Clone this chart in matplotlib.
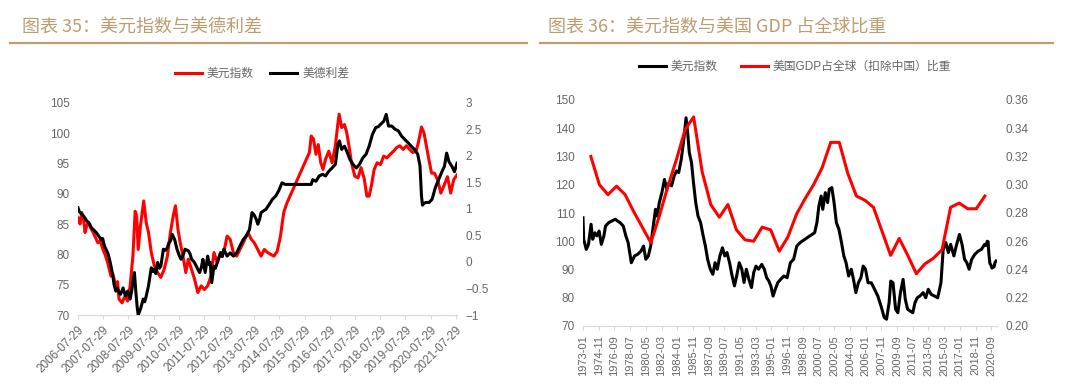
import matplotlib
matplotlib.use('Agg')
import matplotlib.pyplot as plt
from matplotlib.lines import Line2D

plt.rcParams['font.family'] = ['Liberation Sans', 'Noto Sans CJK SC', 'DejaVu Sans']

TITLE_COLOR = '#bb9d70'
TEXT_COLOR = '#666666'
AXIS_COLOR = '#d9d9d9'

# ---- chart 35: USD index (left axis) vs US-German 10y spread (right axis), x in decimal years
dxy_t = [2006.57, 2006.65, 2006.72, 2006.80, 2006.85, 2006.92, 2006.98, 2007.08, 2007.17, 2007.25,
         2007.36, 2007.45, 2007.56, 2007.65, 2007.75, 2007.88, 2007.95, 2008.07, 2008.14, 2008.20,
         2008.32, 2008.40, 2008.45, 2008.54, 2008.64, 2008.75, 2008.84, 2008.90, 2008.96, 2009.05,
         2009.18, 2009.28, 2009.37, 2009.48, 2009.60, 2009.73, 2009.86, 2009.99, 2010.12, 2010.24,
         2010.35, 2010.44, 2010.54, 2010.63, 2010.76, 2010.85, 2010.95, 2011.08, 2011.20, 2011.33,
         2011.46, 2011.59, 2011.72, 2011.85, 2011.97, 2012.10, 2012.23, 2012.36, 2012.49, 2012.61,
         2012.74, 2012.87, 2013.00, 2013.13, 2013.32, 2013.45, 2013.57, 2013.71, 2013.84, 2013.97,
         2014.10, 2014.22, 2014.35, 2014.48, 2014.61, 2014.74, 2014.87, 2015.76, 2015.83, 2015.92,
         2016.02, 2016.11, 2016.21, 2016.30, 2016.40, 2016.53, 2016.66, 2016.79, 2016.88, 2016.94,
         2017.04, 2017.15, 2017.24, 2017.33, 2017.43, 2017.56, 2017.69, 2017.81, 2017.94, 2018.04,
         2018.13, 2018.22, 2018.33, 2018.45, 2018.58, 2018.71, 2018.84, 2018.97, 2019.10, 2019.22,
         2019.35, 2019.48, 2019.61, 2019.74, 2019.86, 2019.99, 2020.08, 2020.21, 2020.31, 2020.42,
         2020.51, 2020.61, 2020.72, 2020.85, 2020.98, 2021.11, 2021.24, 2021.37, 2021.49, 2021.62]
dxy_v = [86.0, 85.0, 86.9, 85.5, 83.6, 84.8, 85.2, 84.3, 83.6, 82.9,
         81.9, 82.3, 80.8, 79.9, 78.6, 76.4, 76.8, 74.8, 75.5, 72.6,
         72.0, 72.8, 73.1, 72.3, 74.8, 79.7, 87.1, 86.3, 80.8, 84.7,
         88.8, 85.2, 83.6, 80.3, 78.1, 77.0, 76.2, 77.5, 79.7, 83.6,
         86.3, 88.0, 84.1, 81.9, 79.2, 77.0, 79.2, 77.5, 75.9, 73.7,
         74.8, 74.2, 74.8, 76.4, 80.3, 78.6, 80.3, 80.3, 83.0, 82.5,
         80.3, 79.7, 80.8, 81.9, 83.6, 82.5, 81.9, 80.8, 79.7, 80.8,
         80.3, 80.0, 79.7, 80.5, 83.0, 86.9, 88.5, 96.8, 99.5, 99.0,
         96.5, 98.1, 95.1, 94.0, 95.7, 97.0, 95.1, 97.9, 101.2, 103.1,
         100.9, 101.4, 100.1, 97.9, 95.1, 92.9, 92.6, 94.3, 92.4, 89.6,
         89.6, 91.3, 94.0, 95.1, 94.8, 96.2, 95.9, 96.5, 97.0, 97.6,
         97.9, 97.3, 97.9, 97.3, 96.8, 97.0, 98.3, 101.0, 100.0, 97.5,
         95.5, 93.4, 93.4, 92.3, 90.1, 91.4, 92.8, 90.1, 92.3, 93.1]

spread_t = [2006.57, 2006.62, 2006.72, 2006.80, 2006.92, 2007.00, 2007.11, 2007.20, 2007.30, 2007.40,
            2007.49, 2007.55, 2007.62, 2007.75, 2007.82, 2007.88, 2007.95, 2008.00, 2008.07, 2008.13,
            2008.20, 2008.26, 2008.36, 2008.45, 2008.54, 2008.64, 2008.70, 2008.75, 2008.81, 2008.87,
            2008.92, 2008.96, 2009.00, 2009.05, 2009.16, 2009.22, 2009.28, 2009.37, 2009.48, 2009.55,
            2009.60, 2009.66, 2009.73, 2009.80, 2009.86, 2009.96, 2010.05, 2010.12, 2010.18, 2010.25,
            2010.31, 2010.41, 2010.50, 2010.60, 2010.66, 2010.73, 2010.82, 2010.95, 2011.02, 2011.08,
            2011.18, 2011.27, 2011.34, 2011.40, 2011.47, 2011.53, 2011.62, 2011.72, 2011.78, 2011.82,
            2011.88, 2011.97, 2012.03, 2012.10, 2012.23, 2012.30, 2012.36, 2012.49, 2012.61, 2012.74,
            2012.87, 2013.00, 2013.13, 2013.25, 2013.38, 2013.48, 2013.57, 2013.65, 2013.71, 2013.78,
            2013.84, 2014.03, 2014.16, 2014.29, 2014.42, 2014.54, 2014.67, 2014.80, 2015.83, 2015.89,
            2016.02, 2016.15, 2016.28, 2016.40, 2016.53, 2016.66, 2016.79, 2016.89, 2016.95, 2017.04,
            2017.15, 2017.24, 2017.37, 2017.49, 2017.62, 2017.75, 2017.88, 2018.01, 2018.13, 2018.26,
            2018.39, 2018.50, 2018.58, 2018.71, 2018.81, 2018.90, 2019.03, 2019.16, 2019.29, 2019.42,
            2019.54, 2019.67, 2019.80, 2019.93, 2020.06, 2020.15, 2020.21, 2020.25, 2020.30, 2020.38,
            2020.51, 2020.63, 2020.76, 2020.89, 2021.02, 2021.12, 2021.21, 2021.30, 2021.43, 2021.52,
            2021.62]
spread_v = [1.02, 0.95, 0.90, 0.86, 0.77, 0.74, 0.64, 0.60, 0.55, 0.48,
            0.42, 0.44, 0.30, 0.17, 0.05, -0.08, -0.25, -0.42, -0.55, -0.49,
            -0.58, -0.61, -0.49, -0.64, -0.55, -0.70, -0.55, -0.39, -0.20, -0.58,
            -0.85, -1.00, -0.95, -0.89, -0.70, -0.75, -0.64, -0.45, -0.11, -0.18,
            -0.14, -0.22, -0.01, -0.12, -0.08, 0.24, 0.22, 0.27, 0.36, 0.40,
            0.52, 0.42, 0.24, 0.11, 0.05, 0.11, 0.24, 0.21, 0.15, 0.05,
            0.00, -0.08, -0.15, -0.20, -0.10, 0.05, -0.20, 0.11, -0.05, -0.01,
            -0.39, -0.08, -0.12, -0.01, 0.17, 0.10, 0.24, 0.11, 0.17, 0.11,
            0.17, 0.30, 0.42, 0.49, 0.61, 0.93, 0.88, 0.80, 0.71, 0.80,
            0.93, 0.99, 1.08, 1.18, 1.24, 1.34, 1.49, 1.46, 1.46, 1.55,
            1.52, 1.62, 1.65, 1.62, 1.71, 1.77, 1.84, 2.21, 2.28, 2.12,
            2.18, 2.09, 1.93, 1.84, 1.77, 1.84, 1.96, 2.03, 2.18, 2.40,
            2.53, 2.55, 2.59, 2.65, 2.78, 2.56, 2.56, 2.50, 2.47, 2.37,
            2.31, 2.25, 2.18, 2.12, 2.03, 1.81, 1.24, 1.07, 1.10, 1.12,
            1.12, 1.18, 1.40, 1.55, 1.70, 1.80, 2.05, 1.89, 1.79, 1.70,
            1.86]

c35_tick_labels = ['2006-07-29', '2007-07-29', '2008-07-29', '2009-07-29', '2010-07-29',
                   '2011-07-29', '2012-07-29', '2013-07-29', '2014-07-29', '2015-07-29',
                   '2016-07-29', '2017-07-29', '2018-07-29', '2019-07-29', '2020-07-29',
                   '2021-07-29']
c35_right_labels = ['−1', '−0.5', '0', '0.5', '1', '1.5', '2', '2.5', '3']

# ---- chart 36: broad USD index (monthly, left) vs US share of world GDP ex China (annual, right)
usd_t = [1973.00, 1973.08, 1973.38, 1973.64, 1973.94, 1974.13, 1974.39, 1974.62, 1974.88, 1975.14,
         1975.44, 1975.63, 1976.01, 1976.38, 1976.76, 1977.02, 1977.32, 1977.70, 1978.00, 1978.27,
         1978.45, 1978.64, 1979.02, 1979.39, 1979.77, 1980.07, 1980.33, 1980.63, 1980.90, 1981.16,
         1981.46, 1981.65, 1981.91, 1982.21, 1982.51, 1982.78, 1983.04, 1983.34, 1983.64, 1983.91,
         1984.17, 1984.47, 1984.77, 1985.03, 1985.22, 1985.41, 1985.67, 1985.90, 1986.16, 1986.43,
         1986.73, 1987.03, 1987.29, 1987.55, 1987.86, 1988.16, 1988.42, 1988.68, 1988.98, 1989.28,
         1989.55, 1989.81, 1990.11, 1990.41, 1990.68, 1990.94, 1991.24, 1991.54, 1991.80, 1992.07,
         1992.37, 1992.67, 1992.93, 1993.20, 1993.50, 1993.87, 1994.17, 1994.44, 1994.70, 1994.93,
         1995.19, 1995.45, 1995.75, 1996.07, 1996.45, 1996.83, 1997.21, 1997.59, 1997.96, 1998.34,
         1998.91, 1999.48, 2000.04, 2000.31, 2000.54, 2000.80, 2000.99, 2001.29, 2001.56, 2001.75,
         2002.05, 2002.31, 2002.58, 2002.88, 2003.18, 2003.45, 2003.71, 2004.01, 2004.32, 2004.58,
         2004.85, 2005.15, 2005.45, 2005.71, 2005.98, 2006.28, 2006.66, 2007.04, 2007.42, 2007.79,
         2008.17, 2008.44, 2008.74, 2008.93, 2009.19, 2009.50, 2009.76, 2010.06, 2010.37, 2010.63,
         2010.90, 2011.20, 2011.50, 2011.76, 2012.03, 2012.33, 2012.71, 2013.01, 2013.31, 2013.65,
         2014.03, 2014.41, 2014.79, 2015.05, 2015.36, 2015.66, 2015.92, 2016.30, 2016.57, 2016.95,
         2017.25, 2017.55, 2017.81, 2018.08, 2018.38, 2018.75, 2019.13, 2019.51, 2019.89, 2020.05,
         2020.20, 2020.30, 2020.38, 2020.50, 2020.62, 2020.75, 2020.90, 2021.00, 2021.10, 2021.22]
usd_v = [108.3, 100.7, 97.1, 98.9, 106.0, 100.7, 103.0, 101.9, 103.6, 98.9,
         101.9, 105.4, 106.6, 107.2, 107.8, 107.2, 106.6, 105.4, 101.9, 99.5,
         96.0, 92.4, 94.8, 95.4, 96.5, 98.3, 93.6, 94.8, 98.3, 104.2,
         111.3, 108.9, 113.7, 117.2, 121.9, 118.4, 120.7, 119.6, 123.1, 124.9,
         124.3, 129.0, 136.1, 143.7, 138.4, 131.4, 127.8, 120.7, 113.7, 108.9,
         106.6, 101.9, 98.3, 93.6, 90.1, 88.3, 92.4, 90.1, 94.8, 97.7,
         94.8, 96.0, 92.4, 87.7, 84.2, 87.7, 92.4, 90.1, 85.4, 90.1,
         86.5, 83.6, 88.9, 91.2, 90.1, 91.8, 90.1, 87.1, 85.9, 84.2,
         80.6, 83.0, 85.4, 86.5, 87.7, 87.1, 92.4, 93.6, 98.3, 99.5,
         100.7, 101.9, 103.0, 106.6, 112.5, 116.0, 111.3, 117.2, 113.7, 118.4,
         119.0, 113.7, 106.6, 104.2, 99.5, 94.8, 92.4, 87.7, 90.1, 86.5,
         81.8, 85.3, 87.1, 91.2, 90.1, 85.3, 85.3, 83.0, 80.6, 77.1,
         73.0, 72.4, 78.3, 85.9, 85.3, 75.9, 74.7, 81.8, 86.5, 79.4,
         75.9, 75.3, 74.7, 78.3, 80.0, 80.6, 81.8, 80.0, 83.0, 81.2,
         80.6, 80.0, 85.3, 97.1, 99.5, 96.0, 98.9, 94.8, 98.3, 102.4,
         98.9, 93.6, 92.4, 90.1, 93.6, 95.4, 96.5, 97.1, 98.9, 98.5,
         100.0, 99.8, 95.7, 92.2, 91.6, 90.5, 90.8, 91.0, 92.5, 93.0]

gdp_year = list(range(1973, 2020))
gdp_share = [0.320, 0.300, 0.293, 0.299, 0.293, 0.281, 0.270, 0.259, 0.278, 0.299,
             0.318, 0.339, 0.348, 0.309, 0.286, 0.277, 0.286, 0.268, 0.261, 0.260,
             0.270, 0.268, 0.253, 0.263, 0.279, 0.290, 0.300, 0.312, 0.330, 0.330,
             0.308, 0.292, 0.289, 0.284, 0.267, 0.250, 0.262, 0.250, 0.237, 0.244,
             0.248, 0.254, 0.284, 0.287, 0.283, 0.283, 0.292]

c36_tick_labels = ['1973-01', '1974-11', '1976-09', '1978-07', '1980-05', '1982-03', '1984-01',
                   '1985-11', '1987-09', '1989-07', '1991-05', '1993-03', '1995-01', '1996-11',
                   '1998-09', '2000-07', '2002-05', '2004-03', '2006-01', '2007-11', '2009-09',
                   '2011-07', '2013-05', '2015-03', '2017-01', '2018-11', '2020-09']


def style_axes(ax, ax_r, xsize):
    for a in (ax, ax_r):
        for side in ('left', 'right', 'top'):
            a.spines[side].set_visible(False)
        a.spines['bottom'].set_color(AXIS_COLOR)
        a.tick_params(axis='y', length=0, labelsize=8.5, labelcolor=TEXT_COLOR, pad=6)
    ax.tick_params(axis='x', length=3, color=AXIS_COLOR, labelsize=xsize, labelcolor=TEXT_COLOR)
    ax_r.spines['bottom'].set_visible(False)


fig = plt.figure(figsize=(10.8, 3.92), dpi=100)

# titles with underline
fig.text(22 / 1080, 1 - 28 / 392, '图表 35：美元指数与美德利差', color=TITLE_COLOR,
         fontsize=13, va='center', family=['Noto Sans CJK SC'])
fig.text(548 / 1080, 1 - 28 / 392, '图表 36：美元指数与美国 GDP 占全球比重', color=TITLE_COLOR,
         fontsize=13, va='center', family=['Noto Sans CJK SC'])
fig.add_artist(Line2D([10 / 1080, 527 / 1080], [1 - 43 / 392] * 2, color=TITLE_COLOR, lw=1.6))
fig.add_artist(Line2D([540 / 1080, 1053 / 1080], [1 - 43 / 392] * 2, color=TITLE_COLOR, lw=1.6))

# ---- left chart
ax1 = fig.add_axes([78 / 1080, 1 - 315 / 392, (457 - 78) / 1080, (315 - 102.7) / 392])
ax1r = ax1.twinx()
h1, = ax1.plot(dxy_t, dxy_v, color='#ff0000', lw=2.2)
h2, = ax1r.plot(spread_t, spread_v, color='#000000', lw=2.2)
ax1.set_ylim(70, 105)
ax1.set_yticks(range(70, 106, 5))
ax1r.set_ylim(-1, 3)
ax1r.set_yticks([-1 + 0.5 * i for i in range(9)])
ax1r.set_yticklabels(c35_right_labels)
ax1.set_xlim(dxy_t[0], dxy_t[-1])
ticks35 = [2006.57 + i for i in range(len(c35_tick_labels))]
ax1.set_xticks(ticks35)
ax1.set_xticklabels(c35_tick_labels, rotation=45, ha='right', rotation_mode='anchor')
style_axes(ax1, ax1r, 8.5)
ax1.legend([h1, h2], ['美元指数', '美德利差'], loc='center', ncol=2, frameon=False,
           bbox_to_anchor=(262 / 1080, 1 - 74 / 392), bbox_transform=fig.transFigure,
           fontsize=8.5, labelcolor=TEXT_COLOR, handlelength=2.3, handletextpad=0.4,
           columnspacing=1.4)

# ---- right chart
ax2 = fig.add_axes([583 / 1080, 1 - 326 / 392, (997 - 583) / 1080, (326 - 100) / 392])
ax2r = ax2.twinx()
usd_x = [(t - 1973) * 12 for t in usd_t]
gdp_x = [(y - 1973) * 12 + 11 for y in gdp_year]
h3, = ax2.plot(usd_x, usd_v, color='#000000', lw=2.2)
h4, = ax2r.plot(gdp_x, gdp_share, color='#ff0000', lw=2.2)
ax2.set_ylim(70, 150)
ax2.set_yticks(range(70, 151, 10))
ax2r.set_ylim(0.20, 0.36)
ax2r.set_yticks([0.20 + 0.02 * i for i in range(9)])
ax2r.set_yticklabels([f'{0.20 + 0.02 * i:.2f}' for i in range(9)])
ax2.set_xlim(0, 580)
ax2.set_xticks([22 * i for i in range(len(c36_tick_labels))])
ax2.set_xticklabels(c36_tick_labels, rotation=90, ha='center', va='top')
style_axes(ax2, ax2r, 8)
ax2.legend([h3, h4], ['美元指数', '美国GDP占全球（扣除中国）比重'], loc='center', ncol=2,
           frameon=False, bbox_to_anchor=(795 / 1080, 1 - 67 / 392),
           bbox_transform=fig.transFigure, fontsize=8.5, labelcolor=TEXT_COLOR,
           handlelength=2.3, handletextpad=0.4, columnspacing=2.0)

fig.savefig('out.png', dpi=100)
